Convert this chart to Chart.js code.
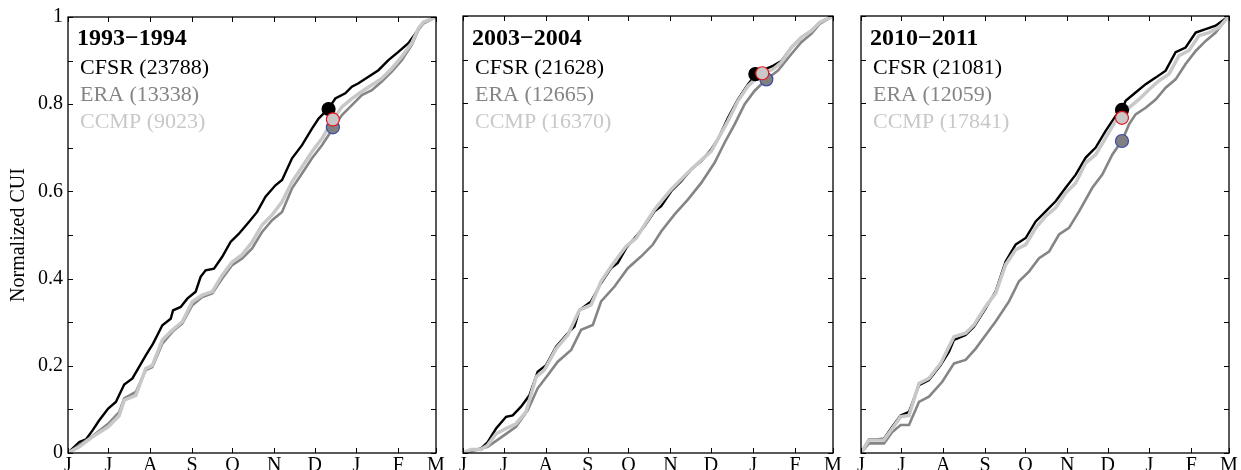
<!DOCTYPE html>
<html><head><meta charset="utf-8">
<script src="https://cdn.jsdelivr.net/npm/chart.js@4.4.1/dist/chart.umd.min.js"></script>
<style>
html,body{margin:0;padding:0;background:#fff;}
#wrap{position:relative;width:1241px;height:470px;overflow:hidden;background:#fff;}
#wrap canvas{position:absolute;left:0;top:0;}
</style></head><body>
<div id="wrap">
<canvas id="c1" width="1241" height="470"></canvas>
<canvas id="c2" width="1241" height="470"></canvas>
<canvas id="c3" width="1241" height="470"></canvas>
</div>
<script>
// ---- axis / category data ----
const monthLabels = ['J','J','A','S','O','N','D','J','F','M'];
const monthStartDays = [0,30,61,92,122,153,183,214,245,273];   // days since 1 June
const yTickValues = [0,0.1,0.2,0.3,0.4,0.5,0.6,0.7,0.8,0.9,1];
const yTickLabels = ['0','','0.2','','0.4','','0.6','','0.8','','1'];
const seasons = ['1993\u22121994','2003\u22122004','2010\u22122011'];
const seriesNames = ['CFSR','ERA','CCMP'];
const countsCFSR = [23788,21628,21081];
const countsERA  = [13338,12665,12059];
const countsCCMP = [9023,16370,17841];

// ---- panel 1: 1993-1994 ----
const p1CfsrDay = [0,8.4,13.3,18.2,23.2,29.8,35.5,41.7,47.8,57.7,63.1,70.0,76.2,77.9,83.6,88.5,94.7,98.4,102.1,108.3,114.4,120.6,126.8,134.2,140.3,146.5,153.9,158.8,166.2,173.6,181.0,185.9,193.3,198.3,205.7,210.6,215.5,222.9,230.3,237.7,245.1,252.5,258.7,263.6,273];
const p1CfsrVal = [0,0.025,0.031,0.052,0.075,0.102,0.117,0.157,0.171,0.224,0.251,0.293,0.308,0.327,0.335,0.354,0.370,0.404,0.419,0.423,0.450,0.484,0.503,0.530,0.553,0.588,0.614,0.626,0.676,0.706,0.744,0.767,0.790,0.813,0.825,0.840,0.848,0.863,0.878,0.901,0.920,0.940,0.966,0.988,1];
const p1EraDay = [0,8.4,18.2,29.8,38.0,41.7,50.3,57.7,62.6,70.0,77.4,84.8,92.2,99.6,107.0,114.4,121.8,129.2,136.6,144.0,151.4,158.8,166.2,173.6,181.0,188.4,195.8,203.2,210.6,218.0,225.4,232.8,240.2,247.6,255.0,259.9,263.6,273];
const p1EraVal = [0,0.018,0.039,0.067,0.094,0.125,0.140,0.190,0.197,0.251,0.278,0.297,0.339,0.358,0.366,0.400,0.431,0.446,0.469,0.507,0.534,0.553,0.607,0.641,0.676,0.706,0.741,0.775,0.798,0.821,0.832,0.852,0.875,0.901,0.936,0.970,0.985,1];
const p1CcmpDay = [0,8.4,18.2,29.8,38.0,41.7,50.3,57.7,62.6,70.0,77.4,84.8,92.2,99.6,107.0,114.4,121.8,129.2,136.6,144.0,151.4,158.8,166.2,173.6,181.0,188.4,195.8,203.2,210.6,218.0,225.4,232.8,240.2,247.6,255.0,259.9,263.6,273];
const p1CcmpVal = [0,0.014,0.037,0.060,0.086,0.121,0.132,0.194,0.201,0.259,0.282,0.301,0.347,0.362,0.370,0.408,0.438,0.455,0.484,0.523,0.546,0.576,0.622,0.656,0.691,0.721,0.760,0.794,0.813,0.829,0.844,0.859,0.882,0.909,0.940,0.974,0.988,1];
const p1MarkDay = [193.3,196.5,196.5];   // CFSR, ERA, CCMP
const p1MarkVal = [0.789,0.747,0.765];

// ---- panel 2: 2003-2004 ----
const p2CfsrDay = [0,5.9,13.3,18.2,24.4,31.8,36.7,42.8,49.0,55.1,61.3,68.7,77.3,82.2,85.9,94.5,101.9,109.3,114.2,120.4,127.8,133.9,141.3,146.2,153.6,161.0,168.4,175.8,183.2,188.1,195.5,202.9,210.3,216.4,222.6,228.7,234.9,242.3,249.6,257.0,263.2,273];
const p2CfsrVal = [0,0.006,0.010,0.025,0.056,0.083,0.086,0.106,0.132,0.186,0.201,0.243,0.274,0.289,0.327,0.347,0.389,0.423,0.435,0.469,0.496,0.519,0.553,0.565,0.599,0.622,0.649,0.668,0.695,0.718,0.767,0.809,0.844,0.867,0.878,0.886,0.897,0.928,0.951,0.966,0.985,1];
const p2EraDay = [0,8.4,18.2,30.5,39.1,47.8,55.1,62.5,69.9,79.8,87.2,95.8,101.9,111.8,121.6,131.5,140.1,146.2,156.1,165.9,175.8,185.6,193.0,200.4,207.8,215.2,223.8,232.4,242.3,249.6,257.0,263.2,273];
const p2EraVal = [0,0.006,0.014,0.041,0.060,0.098,0.148,0.178,0.209,0.236,0.282,0.293,0.347,0.381,0.423,0.450,0.477,0.507,0.546,0.580,0.618,0.664,0.710,0.752,0.798,0.829,0.855,0.875,0.913,0.940,0.959,0.982,1];
const p2CcmpDay = [0,5.9,13.3,18.2,24.4,31.8,39.1,46.5,53.9,60.1,68.7,77.3,85.9,94.5,101.9,109.3,120.4,127.8,141.3,153.6,168.4,183.2,195.5,202.9,210.3,220.1,228.7,234.9,242.3,249.6,257.0,263.2,273];
const p2CcmpVal = [0,0.008,0.008,0.018,0.044,0.056,0.067,0.094,0.174,0.190,0.239,0.270,0.327,0.339,0.393,0.427,0.473,0.492,0.557,0.603,0.649,0.691,0.760,0.806,0.840,0.867,0.878,0.894,0.928,0.951,0.966,0.985,1];
const p2MarkDay = [215.7,223.8,220.8];
const p2MarkVal = [0.867,0.855,0.869];

// ---- panel 3: 2010-2011 ----
const p3CfsrDay = [0,5.9,10.9,17.1,23.2,29.4,35.6,43.0,50.4,59.1,65.3,69.0,77.6,83.8,92.5,99.9,107.3,114.7,122.2,129.6,137.0,144.4,151.8,159.3,166.7,174.1,181.5,188.9,193.9,196.3,203.7,211.2,218.6,226.0,233.4,240.8,248.3,255.7,263.1,273];
const p3CfsrVal = [0,0.031,0.031,0.033,0.060,0.086,0.094,0.155,0.167,0.201,0.232,0.259,0.270,0.289,0.331,0.370,0.438,0.477,0.492,0.530,0.553,0.576,0.607,0.637,0.676,0.699,0.737,0.771,0.787,0.806,0.825,0.844,0.859,0.875,0.917,0.928,0.962,0.970,0.978,1];
const p3EraDay = [0,5.9,17.1,23.2,29.4,35.6,43.0,50.4,60.3,69.0,77.6,85.1,92.5,99.9,109.8,117.2,124.6,132.1,139.5,146.9,154.3,161.8,171.6,179.0,186.5,193.9,198.8,203.7,211.2,218.6,226.0,233.4,240.8,248.3,255.7,263.1,268.1,273];
const p3EraVal = [0,0.022,0.022,0.048,0.064,0.064,0.117,0.129,0.163,0.205,0.213,0.239,0.270,0.301,0.347,0.393,0.415,0.446,0.461,0.500,0.515,0.553,0.607,0.637,0.683,0.716,0.752,0.775,0.790,0.809,0.836,0.855,0.890,0.920,0.943,0.962,0.982,1];
const p3CcmpDay = [0,5.9,17.1,23.2,29.4,35.6,43.0,50.4,59.1,69.0,77.6,83.8,92.5,99.9,107.3,114.7,122.2,129.6,137.0,144.4,151.8,159.3,166.7,174.1,181.5,188.9,193.9,198.8,206.2,213.7,221.1,228.5,235.9,243.3,250.7,258.2,265.6,273];
const p3CcmpVal = [0,0.030,0.030,0.056,0.083,0.086,0.159,0.171,0.205,0.266,0.274,0.293,0.335,0.366,0.431,0.465,0.477,0.515,0.542,0.561,0.595,0.618,0.664,0.683,0.721,0.760,0.767,0.790,0.809,0.832,0.852,0.867,0.909,0.921,0.955,0.962,0.974,1];
const p3MarkDay = [193.6,193.6,193.6];
const p3MarkVal = [0.785,0.714,0.767];

// ---- styling ----
const SERIF = "'Liberation Serif','Times New Roman',serif";
const COL_CFSR = '#000000', COL_ERA = '#858585', COL_CCMP = '#c8c8c8';

const panels = [
  {id:'c1', left:68, right:436, showY:true, yW:68,
   cfsr:[p1CfsrDay,p1CfsrVal], era:[p1EraDay,p1EraVal], ccmp:[p1CcmpDay,p1CcmpVal], mark:[p1MarkDay,p1MarkVal]},
  {id:'c2', left:463, right:833, showY:false, yW:0,
   cfsr:[p2CfsrDay,p2CfsrVal], era:[p2EraDay,p2EraVal], ccmp:[p2CcmpDay,p2CcmpVal], mark:[p2MarkDay,p2MarkVal]},
  {id:'c3', left:861, right:1229, showY:false, yW:0,
   cfsr:[p3CfsrDay,p3CfsrVal], era:[p3EraDay,p3EraVal], ccmp:[p3CcmpDay,p3CcmpVal], mark:[p3MarkDay,p3MarkVal]}
];
const TOP = 16, BOTTOM = 453, XH = 17;

const zip = (xs, ys) => xs.map((x,i)=>({x:x, y:ys[i]}));

const framePlugin = {
  id:'frame',
  afterDatasetsDraw(chart){
    const {ctx, chartArea:a} = chart;
    const xs = chart.scales.x, ys = chart.scales.y;
    ctx.save();
    ctx.strokeStyle = '#000';
    ctx.lineWidth = 1.3;
    ctx.strokeRect(a.left, a.top, a.right - a.left, a.bottom - a.top);
    ctx.lineWidth = 1;
    ctx.beginPath();
    monthStartDays.forEach(v=>{
      const px = Math.round(xs.getPixelForValue(v)) + 0.5;
      ctx.moveTo(px, a.bottom); ctx.lineTo(px, a.bottom - 5);
      ctx.moveTo(px, a.top); ctx.lineTo(px, a.top + 5);
    });
    yTickValues.forEach(v=>{
      const py = Math.round(ys.getPixelForValue(v)) + 0.5;
      ctx.moveTo(a.left, py); ctx.lineTo(a.left + 5, py);
      ctx.moveTo(a.right, py); ctx.lineTo(a.right - 5, py);
    });
    ctx.stroke();
    ctx.restore();
  }
};

const textPlugin = {
  id:'panelText',
  afterDatasetsDraw(chart, args, opts){
    const {ctx, chartArea:a} = chart;
    const i = opts.index;
    ctx.save();
    ctx.textAlign = 'left';
    ctx.textBaseline = 'alphabetic';
    ctx.fillStyle = '#000';
    ctx.font = 'bold 24px ' + SERIF;
    ctx.fillText(seasons[i], a.left + 9, 45);
    ctx.font = '22px ' + SERIF;
    ctx.fillStyle = COL_CFSR;
    ctx.fillText(seriesNames[0] + ' (' + countsCFSR[i] + ')', a.left + 12, 74);
    ctx.fillStyle = COL_ERA;
    ctx.fillText(seriesNames[1] + ' (' + countsERA[i] + ')', a.left + 12, 101);
    ctx.fillStyle = COL_CCMP;
    ctx.fillText(seriesNames[2] + ' (' + countsCCMP[i] + ')', a.left + 12, 128);
    ctx.restore();
  }
};

panels.forEach((p, idx)=>{
  const mk = (j, fill, edge) => ({
    type:'scatter',
    data:[{x:p.mark[0][j], y:p.mark[1][j]}],
    pointRadius:6.5, pointHoverRadius:6.5,
    pointBackgroundColor:fill, pointBorderColor:edge, pointBorderWidth:1.2,
    showLine:false
  });
  const ln = (arr, col, w) => ({
    type:'line',
    data: zip(arr[0], arr[1]),
    borderColor:col, backgroundColor:col, borderWidth:w,
    pointRadius:0, tension:0, fill:false
  });
  const datasets = [
    mk(2, COL_CCMP, '#e8151b'),   // CCMP marker (drawn on top)
    mk(1, '#808080', '#3a4aa8'),  // ERA marker
    mk(0, '#000000', '#000000'),  // CFSR marker
    ln(p.ccmp, COL_CCMP, 3.5),
    ln(p.era, COL_ERA, 2.6),
    ln(p.cfsr, COL_CFSR, 2.4)
  ];
  new Chart(document.getElementById(p.id), {
    type:'line',
    data:{datasets},
    options:{
      responsive:false, animation:false, devicePixelRatio:1,
      layout:{padding:{left:p.left - p.yW, right:1241 - p.right, top:TOP, bottom:470 - BOTTOM - XH}},
      plugins:{legend:{display:false}, tooltip:{enabled:false}, panelText:{index:idx}},
      scales:{
        x:{
          type:'linear', min:0, max:273,
          afterBuildTicks:s=>{ s.ticks = monthStartDays.map(v=>({value:v})); },
          afterFit:s=>{ s.height = XH; },
          ticks:{autoSkip:false, maxRotation:0, minRotation:0, padding:1, color:'#000',
                 font:{family:SERIF, size:20}, callback:(v,i)=>monthLabels[i]},
          grid:{display:false, drawTicks:false}, border:{display:false}
        },
        y:{
          type:'linear', min:0, max:1,
          afterBuildTicks:s=>{ s.ticks = yTickValues.map(v=>({value:v})); },
          afterFit:s=>{ s.width = p.yW; },
          ticks:{display:p.showY, padding:5, color:'#000', font:{family:SERIF, size:20},
                 callback:(v,i)=>yTickLabels[i]},
          title:{display:p.showY, text:'Normalized CUI', color:'#000',
                 font:{family:SERIF, size:20}, padding:{top:7, bottom:0}},
          grid:{display:false, drawTicks:false}, border:{display:false}
        }
      }
    },
    plugins:[framePlugin, textPlugin]
  });
});
</script>
</body></html>
